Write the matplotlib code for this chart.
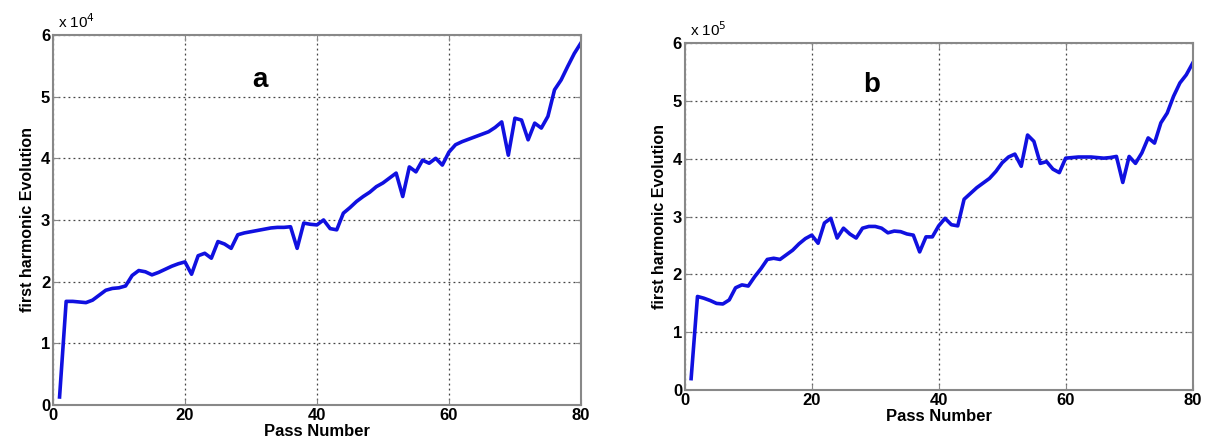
import matplotlib
matplotlib.use('Agg')
import matplotlib.pyplot as plt

plt.rcParams['font.family'] = ['Liberation Sans', 'DejaVu Sans']

passes = list(range(1, 81))

# panel a values (x 10^4)
harm_a = [0.13, 1.68, 1.68, 1.67, 1.66, 1.70, 1.78, 1.86, 1.89, 1.90,
          1.93, 2.10, 2.18, 2.16, 2.11, 2.15, 2.20, 2.25, 2.29, 2.32,
          2.12, 2.42, 2.46, 2.38, 2.65, 2.61, 2.54, 2.76, 2.79, 2.81,
          2.83, 2.85, 2.87, 2.88, 2.88, 2.89, 2.54, 2.95, 2.93, 2.92,
          3.00, 2.86, 2.84, 3.11, 3.20, 3.30, 3.38, 3.45, 3.54, 3.60,
          3.68, 3.76, 3.38, 3.86, 3.78, 3.97, 3.92, 4.00, 3.89, 4.10,
          4.22, 4.27, 4.31, 4.35, 4.39, 4.43, 4.50, 4.59, 4.05, 4.65,
          4.62, 4.30, 4.57, 4.49, 4.68, 5.11, 5.27, 5.49, 5.70, 5.87]

# panel b values (x 10^5)
harm_b = [0.20, 1.62, 1.59, 1.55, 1.50, 1.49, 1.56, 1.77, 1.82, 1.80,
          1.96, 2.10, 2.26, 2.28, 2.26, 2.34, 2.42, 2.53, 2.62, 2.68,
          2.54, 2.89, 2.97, 2.63, 2.80, 2.70, 2.63, 2.80, 2.83, 2.83,
          2.80, 2.72, 2.75, 2.74, 2.70, 2.68, 2.39, 2.65, 2.65, 2.84,
          2.97, 2.86, 2.84, 3.30, 3.40, 3.50, 3.58, 3.66, 3.78, 3.93,
          4.03, 4.08, 3.87, 4.41, 4.30, 3.92, 3.95, 3.82, 3.76, 4.01,
          4.02, 4.03, 4.03, 4.03, 4.02, 4.01, 4.02, 4.04, 3.59, 4.04,
          3.92, 4.10, 4.36, 4.27, 4.62, 4.79, 5.08, 5.31, 5.45, 5.65]

xticks = [0, 20, 40, 60, 80]
yticks = [0, 1, 2, 3, 4, 5, 6]

fig = plt.figure(figsize=(12.12, 4.48), dpi=100)
ax1 = fig.add_axes([0.0437, 0.096, 0.4356, 0.826])
ax2 = fig.add_axes([0.565, 0.129, 0.419, 0.775])

def setup(ax, y, letter, expo, lx, ly):
    ax.plot(passes, y, color='#1010e0', lw=2.6)
    ax.set_xlim(0, 80)
    ax.set_ylim(0, 6)
    ax.set_xticks(xticks)
    ax.set_yticks(yticks)
    ax.grid(True, color='#444444', linestyle=(0, (1.5, 2.5)), lw=0.9)
    ax.tick_params(direction='in', top=True, right=True, length=4,
                   labelsize=12, pad=2, color='#888888')
    for lab in ax.get_xticklabels() + ax.get_yticklabels():
        lab.set_fontweight('bold')
    for s in ax.spines.values():
        s.set_color('#888888')
        s.set_linewidth(1.5)
    ax.set_xlabel('Pass Number', fontsize=12, fontweight='bold', labelpad=1)
    ax.set_ylabel('first harmonic Evolution', fontsize=11.5, fontweight='bold', labelpad=4)
    ax.text(0.01, 1.012, r'x 10$^{%d}$' % expo, transform=ax.transAxes,
            fontsize=11, ha='left', va='bottom')
    ax.text(lx, ly, letter, fontsize=20, fontweight='bold', ha='center', va='center')

setup(ax1, harm_a, 'a', 4, 31.4, 5.27)
setup(ax2, harm_b, 'b', 5, 29.4, 5.28)

fig.savefig('out.png', dpi=100)
